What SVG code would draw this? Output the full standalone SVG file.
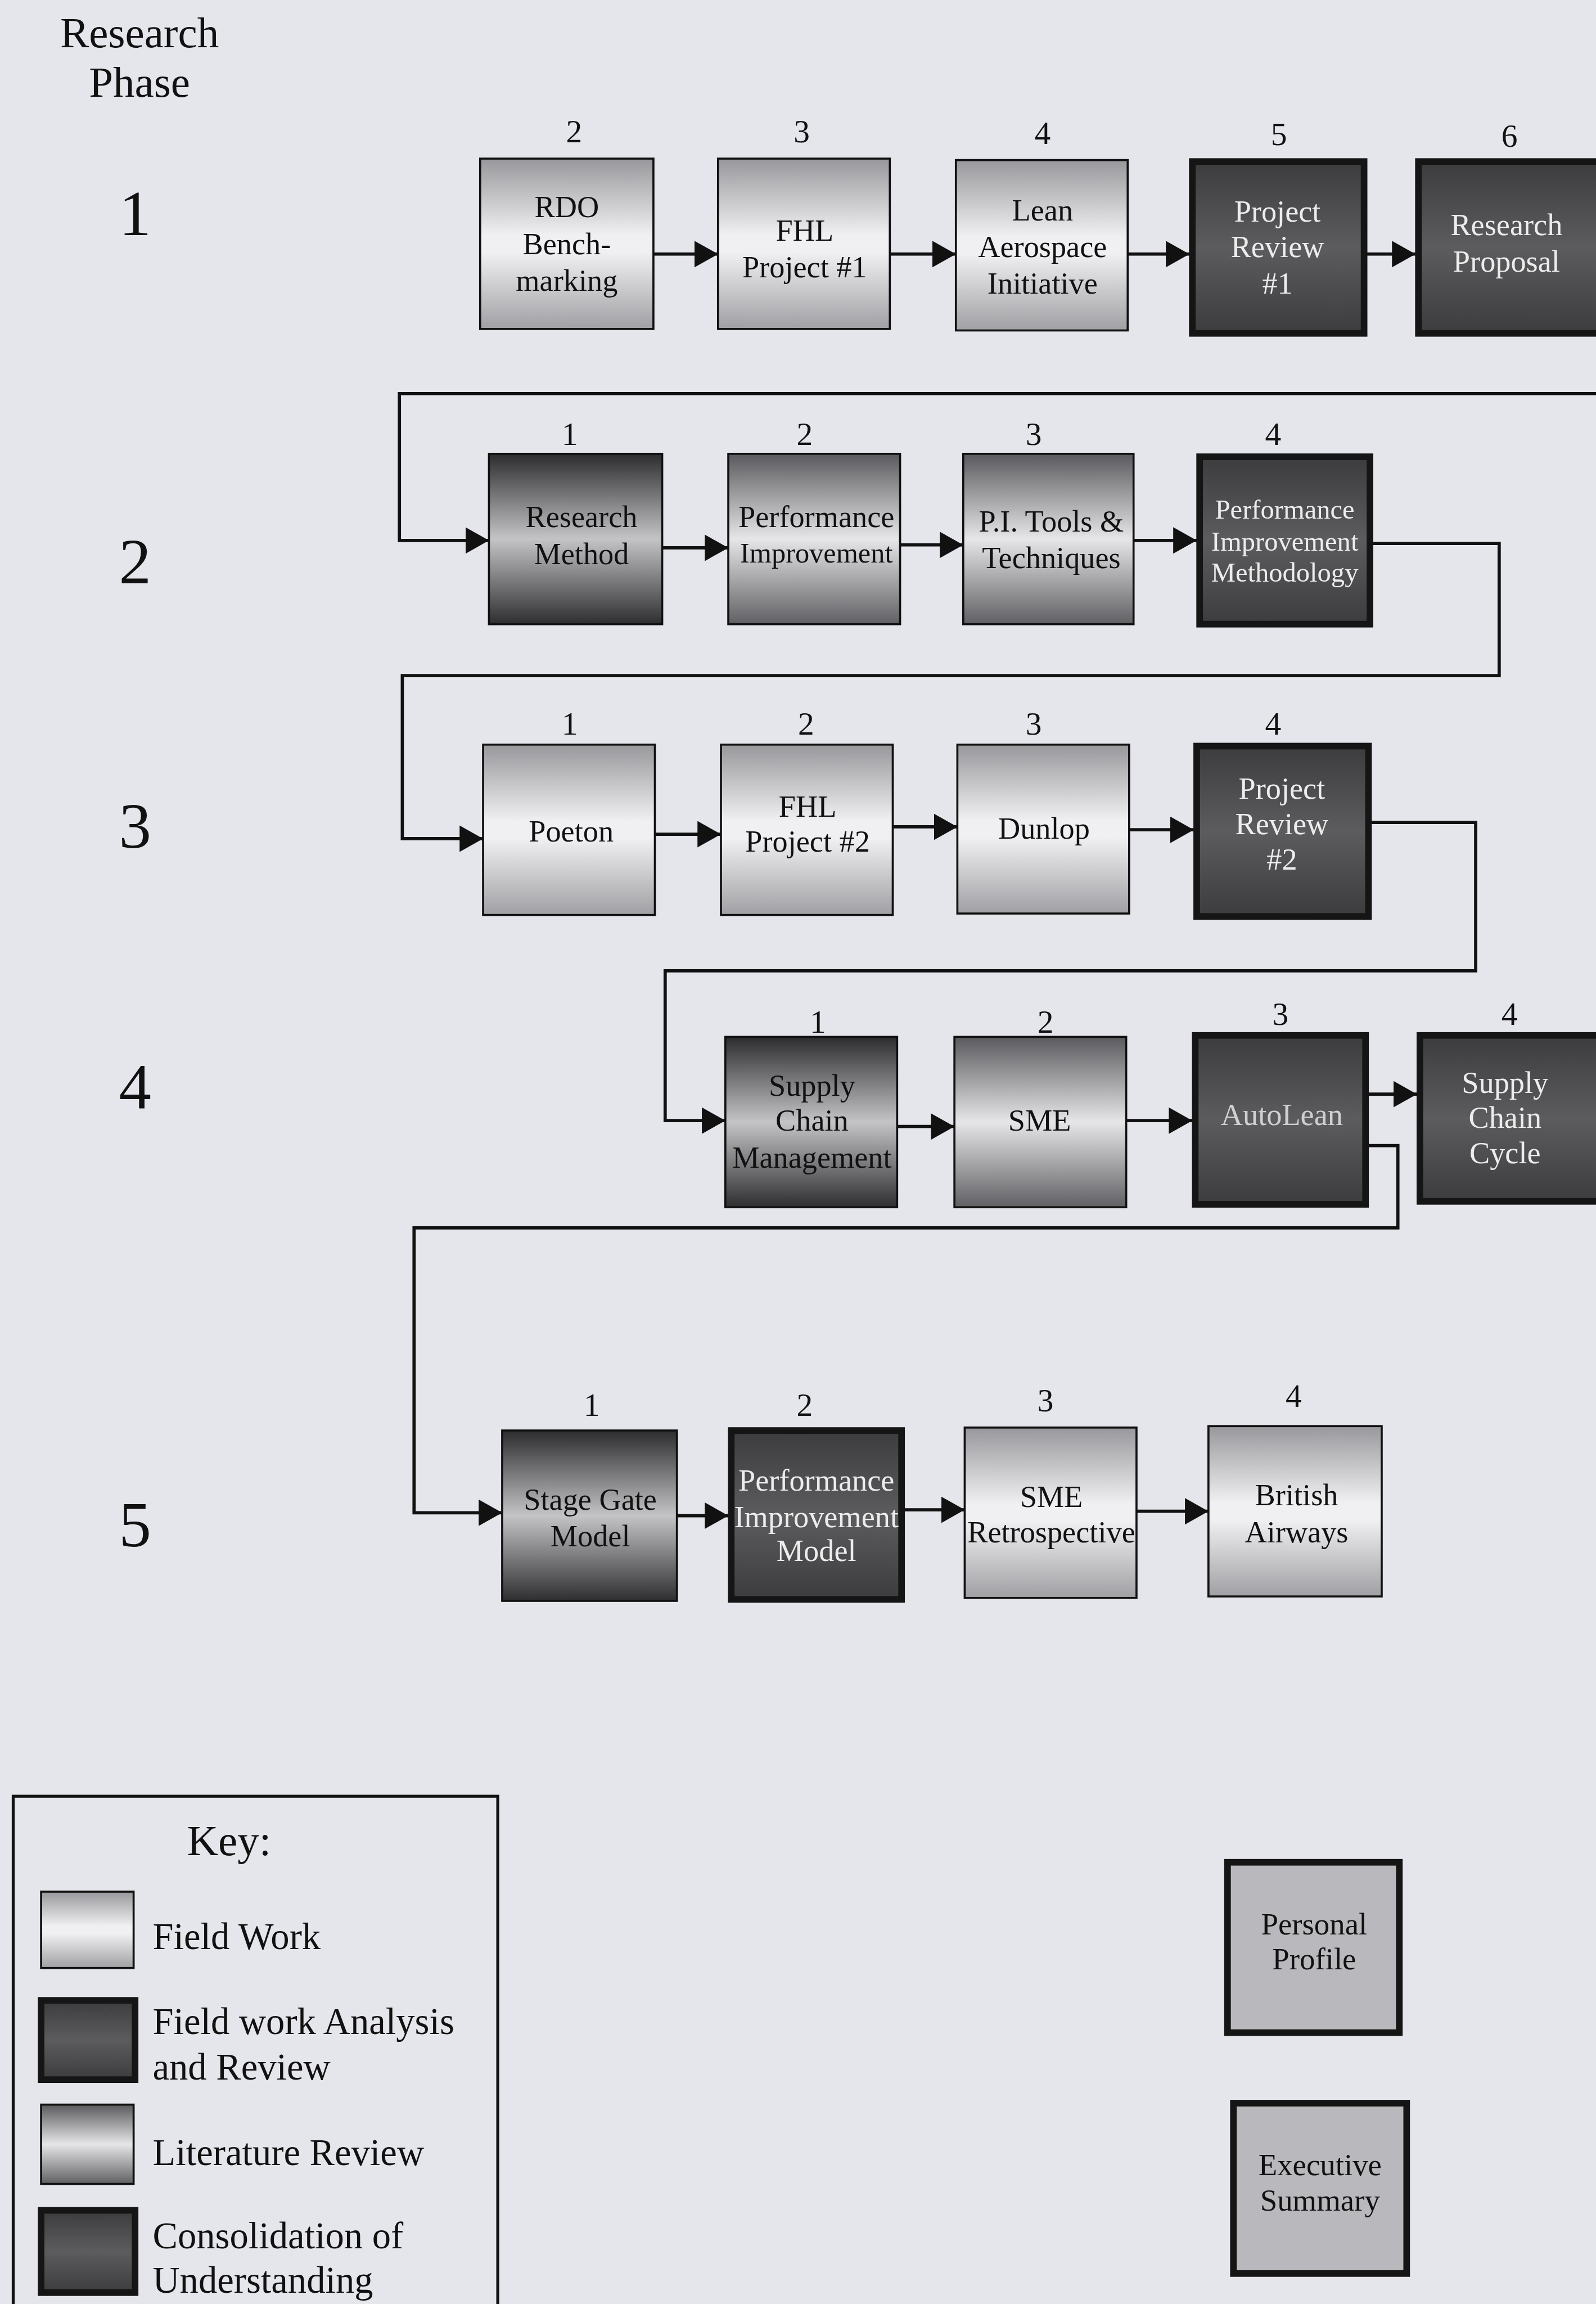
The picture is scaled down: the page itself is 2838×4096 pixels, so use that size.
<svg xmlns="http://www.w3.org/2000/svg" width="2838" height="4096" viewBox="0 0 2838 4096">
<defs>
<style>
.t{font-family:"Liberation Serif","Times New Roman",serif;font-size:20.8px;text-anchor:middle;fill:#111}
.tw{font-family:"Liberation Serif","Times New Roman",serif;font-size:20.8px;text-anchor:middle;fill:#ececec}
.ts{font-size:18.6px}
.tp{font-size:21px}
.n{font-family:"Liberation Serif","Times New Roman",serif;font-size:22px;text-anchor:middle;fill:#111}
.ph{font-family:"Liberation Serif","Times New Roman",serif;font-size:44px;text-anchor:middle;fill:#111}
.hd{font-family:"Liberation Serif","Times New Roman",serif;font-size:29.5px;text-anchor:middle;fill:#111}
.k{font-family:"Liberation Serif","Times New Roman",serif;font-size:25.5px;fill:#111}
.light{fill:url(#gLight);stroke:#111;stroke-width:1.4}
.med{fill:url(#gMed);stroke:#111;stroke-width:1.4}
.dark{fill:url(#gDark);stroke:#111;stroke-width:1.4}
.rev{fill:url(#gRev);stroke:#151515;stroke-width:4.5}
.sum{fill:#b9b9bd;stroke:#151515;stroke-width:4.5}
.c{fill:none;stroke:#111;stroke-width:2.2}
</style>
<linearGradient id="gLight" x1="0" y1="0" x2="0" y2="1">
<stop offset="0" stop-color="#98989c"/><stop offset="0.45" stop-color="#f0f0f2"/><stop offset="0.55" stop-color="#f0f0f2"/><stop offset="1" stop-color="#a0a0a4"/>
</linearGradient>
<linearGradient id="gMed" x1="0" y1="0" x2="0" y2="1">
<stop offset="0" stop-color="#5a5a5e"/><stop offset="0.5" stop-color="#e6e6e8"/><stop offset="1" stop-color="#606064"/>
</linearGradient>
<linearGradient id="gDark" x1="0" y1="0" x2="0" y2="1">
<stop offset="0" stop-color="#2c2c2e"/><stop offset="0.5" stop-color="#c4c4c6"/><stop offset="1" stop-color="#2e2e30"/>
</linearGradient>
<linearGradient id="gRev" x1="0" y1="0" x2="0" y2="1">
<stop offset="0" stop-color="#3c3c3e"/><stop offset="0.5" stop-color="#5c5c5e"/><stop offset="1" stop-color="#3c3c3e"/>
</linearGradient>
<marker id="ah" markerUnits="userSpaceOnUse" markerWidth="18" markerHeight="20" refX="16" refY="9" orient="auto">
<path d="M0,0 L16,9 L0,18 Z" fill="#111"/>
</marker>
</defs>
<rect x="0" y="0" width="2838" height="4096" fill="#e5e5ec"/>
<g transform="scale(2.611)">
<g id="header">
<text class="hd" x="95" y="32">Research</text>
<text class="hd" x="95" y="66">Phase</text>
<text class="ph" x="92" y="160">1</text>
<text class="ph" x="92" y="397">2</text>
<text class="ph" x="92" y="577">3</text>
<text class="ph" x="92" y="755">4</text>
<text class="ph" x="92" y="1053">5</text>
</g>

<g id="connectors">
<line class="c" x1="445" y1="173" x2="489" y2="173" marker-end="url(#ah)"/>
<line class="c" x1="606" y1="173" x2="651" y2="173" marker-end="url(#ah)"/>
<line class="c" x1="768" y1="173" x2="810" y2="173" marker-end="url(#ah)"/>
<line class="c" x1="930" y1="173" x2="964" y2="173" marker-end="url(#ah)"/>
<path class="c" d="M1087,268 H272 V368 H333" marker-end="url(#ah)"/>
<line class="c" x1="451" y1="373" x2="496" y2="373" marker-end="url(#ah)"/>
<line class="c" x1="613" y1="371" x2="656" y2="371" marker-end="url(#ah)"/>
<line class="c" x1="772" y1="368" x2="815" y2="368" marker-end="url(#ah)"/>
<path class="c" d="M935,370 H1021 V460 H274 V571 H329" marker-end="url(#ah)"/>
<line class="c" x1="446" y1="568" x2="491" y2="568" marker-end="url(#ah)"/>
<line class="c" x1="608" y1="563" x2="652" y2="563" marker-end="url(#ah)"/>
<line class="c" x1="769" y1="565" x2="813" y2="565" marker-end="url(#ah)"/>
<path class="c" d="M934,560 H1005 V661 H453 V763 H494" marker-end="url(#ah)"/>
<line class="c" x1="611" y1="767" x2="650" y2="767" marker-end="url(#ah)"/>
<line class="c" x1="767" y1="763" x2="812" y2="763" marker-end="url(#ah)"/>
<line class="c" x1="932" y1="745" x2="965" y2="745" marker-end="url(#ah)"/>
<path class="c" d="M932,780 H952 V836 H282 V1030 H342" marker-end="url(#ah)"/>
<line class="c" x1="461" y1="1032" x2="496" y2="1032" marker-end="url(#ah)"/>
<line class="c" x1="616" y1="1028" x2="657" y2="1028" marker-end="url(#ah)"/>
<line class="c" x1="774" y1="1029" x2="823" y2="1029" marker-end="url(#ah)"/>
</g>

<!-- Row 1 -->
<g id="n-rdo"><rect class="light" x="327" y="108" width="118" height="116"/><text class="n" x="391" y="97">2</text>
<text class="t" x="386" y="148">RDO</text><text class="t" x="386" y="173">Bench-</text><text class="t" x="386" y="198">marking</text></g>
<g id="n-fhl1"><rect class="light" x="489" y="108" width="117" height="116"/><text class="n" x="546" y="97">3</text>
<text class="t" x="548" y="164">FHL</text><text class="t" x="548" y="189">Project #1</text></g>
<g id="n-lean"><rect class="light" x="651" y="109" width="117" height="116"/><text class="n" x="710" y="98">4</text>
<text class="t" x="710" y="150">Lean</text><text class="t" x="710" y="175">Aerospace</text><text class="t" x="710" y="200">Initiative</text></g>
<g id="n-pr1"><rect class="rev" x="812" y="110" width="117" height="117"/><text class="n" x="871" y="99">5</text>
<text class="tw" x="870" y="151">Project</text><text class="tw" x="870" y="175">Review</text><text class="tw" x="870" y="200">#1</text></g>
<g id="n-rp"><rect class="rev" x="966" y="110" width="125" height="117"/><text class="n" x="1028" y="100">6</text>
<text class="tw" x="1026" y="160">Research</text><text class="tw" x="1026" y="185">Proposal</text></g>

<!-- Row 2 -->
<g id="n-rm"><rect class="dark" x="333" y="309" width="118" height="116"/><text class="n" x="388" y="303">1</text>
<text class="t" x="396" y="359">Research</text><text class="t" x="396" y="384">Method</text></g>
<g id="n-pi"><rect class="med" x="496" y="309" width="117" height="116"/><text class="n" x="548" y="303">2</text>
<text class="t" x="556" y="359">Performance</text><text class="t" x="556" y="383" style="font-size:19.3px">Improvement</text></g>
<g id="n-pit"><rect class="med" x="656" y="309" width="116" height="116"/><text class="n" x="704" y="303">3</text>
<text class="t" x="716" y="362">P.I. Tools &amp;</text><text class="t" x="716" y="387">Techniques</text></g>
<g id="n-pim"><rect class="rev" x="817" y="311" width="116" height="114"/><text class="n" x="867" y="303">4</text>
<text class="tw ts" x="875" y="353">Performance</text><text class="tw ts" x="875" y="375">Improvement</text><text class="tw ts" x="875" y="396">Methodology</text></g>

<!-- Row 3 -->
<g id="n-poeton"><rect class="light" x="329" y="507" width="117" height="116"/><text class="n" x="388" y="500">1</text>
<text class="t" x="389" y="573">Poeton</text></g>
<g id="n-fhl2"><rect class="light" x="491" y="507" width="117" height="116"/><text class="n" x="549" y="500">2</text>
<text class="t" x="550" y="556">FHL</text><text class="t" x="550" y="580">Project #2</text></g>
<g id="n-dunlop"><rect class="light" x="652" y="507" width="117" height="115"/><text class="n" x="704" y="500">3</text>
<text class="t" x="711" y="571">Dunlop</text></g>
<g id="n-pr2"><rect class="rev" x="815" y="508" width="117" height="116"/><text class="n" x="867" y="500">4</text>
<text class="tw" x="873" y="544">Project</text><text class="tw" x="873" y="568">Review</text><text class="tw" x="873" y="592">#2</text></g>

<!-- Row 4 -->
<g id="n-scm"><rect class="dark" x="494" y="706" width="117" height="116"/><text class="n" x="557" y="703">1</text>
<text class="t" x="553" y="746">Supply</text><text class="t" x="553" y="770">Chain</text><text class="t" x="553" y="795">Management</text></g>
<g id="n-sme"><rect class="med" x="650" y="706" width="117" height="116"/><text class="n" x="712" y="703">2</text>
<text class="t" x="708" y="770">SME</text></g>
<g id="n-autolean"><rect class="rev" x="814" y="705" width="116" height="115"/><text class="n" x="872" y="698">3</text>
<text class="tw" x="873" y="766" fill-opacity="0.8">AutoLean</text></g>
<g id="n-scc"><rect class="rev" x="967" y="705" width="124" height="113"/><text class="n" x="1028" y="698">4</text>
<text class="tw" x="1025" y="744">Supply</text><text class="tw" x="1025" y="768">Chain</text><text class="tw" x="1025" y="792">Cycle</text></g>

<!-- Row 5 -->
<g id="n-sgm"><rect class="dark" x="342" y="974" width="119" height="116"/><text class="n" x="403" y="964">1</text>
<text class="t" x="402" y="1028">Stage Gate</text><text class="t" x="402" y="1053">Model</text></g>
<g id="n-pimodel"><rect class="rev" x="498" y="974" width="116" height="115"/><text class="n" x="548" y="964">2</text>
<text class="tw" x="556" y="1015">Performance</text><text class="tw" x="556" y="1040">Improvement</text><text class="tw" x="556" y="1063">Model</text></g>
<g id="n-smer"><rect class="light" x="657" y="972" width="117" height="116"/><text class="n" x="712" y="961">3</text>
<text class="t" x="716" y="1026">SME</text><text class="t" x="716" y="1050">Retrospective</text></g>
<g id="n-ba"><rect class="light" x="823" y="971" width="118" height="116"/><text class="n" x="881" y="958">4</text>
<text class="t" x="883" y="1025">British</text><text class="t" x="883" y="1050">Airways</text></g>

<!-- Key -->
<g id="key">
<rect x="9" y="1223" width="330" height="360" fill="none" stroke="#111" stroke-width="2"/>
<text class="hd" x="156" y="1263">Key:</text>
<rect class="light" x="28" y="1288" width="63" height="52"/>
<text class="k" x="104" y="1327">Field Work</text>
<rect class="rev" x="28" y="1362" width="64" height="54"/>
<text class="k" x="104" y="1385">Field work Analysis</text>
<text class="k" x="104" y="1416">and Review</text>
<rect class="med" x="28" y="1433" width="63" height="54"/>
<text class="k" x="104" y="1474">Literature Review</text>
<rect fill="url(#gRev)" stroke="#151515" stroke-width="4.5" x="28" y="1505" width="64" height="56"/>
<text class="k" x="104" y="1531">Consolidation of</text>
<text class="k" x="104" y="1561">Understanding</text>
</g>

<g id="n-pp"><rect class="sum" x="836" y="1268" width="117" height="116"/>
<text class="t tp" x="895" y="1317">Personal</text><text class="t tp" x="895" y="1341">Profile</text></g>
<g id="n-es"><rect class="sum" x="840" y="1432" width="118" height="116"/>
<text class="t tp" x="899" y="1481">Executive</text><text class="t tp" x="899" y="1505">Summary</text></g>
</g>
</svg>
